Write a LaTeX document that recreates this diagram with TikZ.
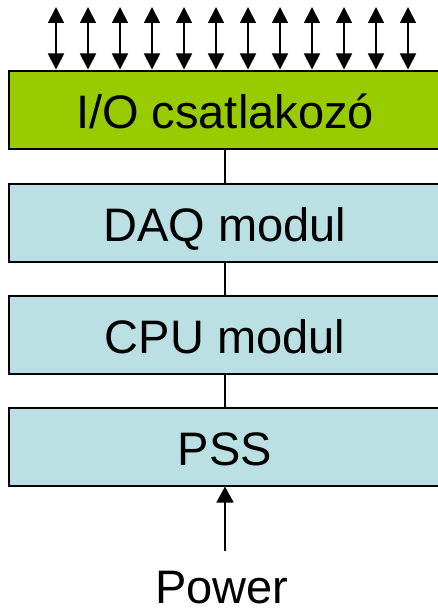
\documentclass[tikz,border=0pt]{standalone}
\usepackage{fontspec}
\setmainfont{Liberation Sans}
\usetikzlibrary{arrows.meta}
\definecolor{iogreen}{HTML}{99CC00}
\definecolor{modblue}{HTML}{BBE0E3}
\begin{document}
\begin{tikzpicture}[x=1pt,y=-1pt,
  block/.style={draw=black,line width=2pt,minimum width=432pt,minimum height=78pt,
    inner sep=0pt,text height=37pt,text depth=0pt,font=\fontsize{47}{50}\selectfont},
  link/.style={line width=2pt},
  pin/.style={line width=1.8pt,{Triangle[width=16pt,length=16pt]}-{Triangle[width=16pt,length=16pt]}},
  feed/.style={line width=1.8pt,-{Triangle[width=17pt,length=16pt]}}]
\useasboundingbox (0,0) rectangle (438,610);
\clip (0,0) rectangle (438,610);

% stacked modules
\node[block,fill=iogreen] (io)  at (225,109.5) {I/O csatlakozó};
\node[block,fill=modblue] (daq) at (225,222.5) {DAQ modul};
\node[block,fill=modblue] (cpu) at (225,334.5) {CPU modul};
\node[block,fill=modblue] (pss) at (225,446.5) {PSS};

% bus between modules
\draw[link] (io) -- (daq);
\draw[link] (daq) -- (cpu);
\draw[link] (cpu) -- (pss);

% I/O lines
\foreach \i in {0,...,11} {
  \coordinate (t\i) at (56+32*\i,7);
  \draw[pin] (t\i) -- (t\i |- io.north);
}

% power input
\node[font=\fontsize{47}{50}\selectfont,inner sep=0pt,text height=33pt,text depth=0pt,anchor=base] (power) at (222,603) {Power};
\draw[feed,shorten <=19pt] (power.north -| pss.south) -- (pss.south);
\end{tikzpicture}
\end{document}
